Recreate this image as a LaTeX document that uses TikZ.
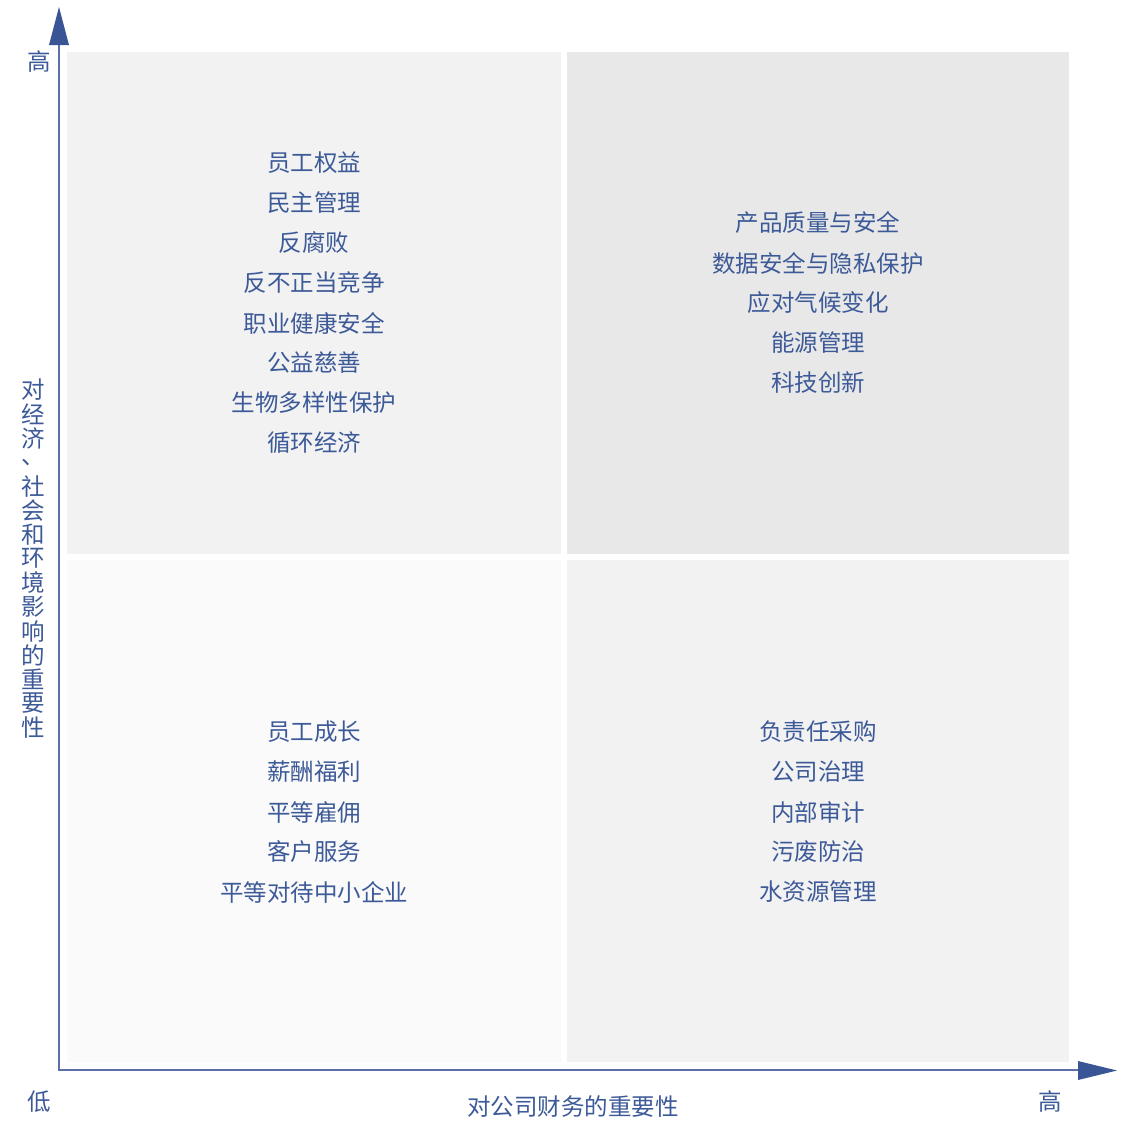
\documentclass[tikz,border=0pt]{standalone}
\usepackage{fontspec}
\setmainfont{Noto Sans CJK SC}
\begin{document}
\begin{tikzpicture}[x=1pt,y=-1pt,
  lbl/.style={text=txtc,font=\fontsize{23.5}{23.5}\selectfont,inner sep=0pt,anchor=center},
  quad/.style={draw=none,inner sep=0pt,outer sep=0pt}]
\definecolor{txtc}{HTML}{3D5A98}
\definecolor{axc}{HTML}{5C70A8}
\definecolor{arrc}{HTML}{3A5596}
\definecolor{qa}{HTML}{F2F2F2}
\definecolor{qb}{HTML}{E8E8E8}
\definecolor{qc}{HTML}{FAFAFA}
\definecolor{qd}{HTML}{F2F2F2}
\useasboundingbox[fill=white] (0,0) rectangle (1130,1120);
% quadrants
\fill[qa] (67,52) rectangle (561,554);
\fill[qb] (567,52) rectangle (1069,554);
\fill[qc] (67,560) rectangle (561,1062);
\fill[qd] (567,560) rectangle (1069,1062);
% axes
\coordinate (O) at (59,1070);
\coordinate (Ytop) at (59,44);
\coordinate (Xend) at (1079,1070);
\draw[axc,line width=1.8] (Ytop) -- (O) -- (Xend);
\fill[arrc] (49,45) -- (59,7) -- (69,45) -- cycle;
\fill[arrc] (1078,1061) -- (1117,1070.5) -- (1078,1080) -- cycle;
% axis labels
\node[lbl] (yhi) at (39,62) {高};
\node[lbl] (ylo) at (39,1102) {低};
\node[lbl] (xhi) at (1050,1102) {高};
\node[lbl] (xlab) at (573,1107) {对公司财务的重要性};
\foreach \c [count=\i from 0] in {对,经,济,、,社,会,和,环,境,影,响,的,重,要,性}{
  \node[lbl] (yl\i) at (33,{390+\i*24.1}) {\c};
}
% TL
\foreach \t [count=\i from 0] in {员工权益,民主管理,反腐败,反不正当竞争,职业健康安全,公益慈善,生物多样性保护,循环经济}{
  \node[lbl] (tl\i) at (314,{163+\i*40}) {\t};
}
% TR
\foreach \t [count=\i from 0] in {产品质量与安全,数据安全与隐私保护,应对气候变化,能源管理,科技创新}{
  \node[lbl] (tr\i) at (818,{223+\i*40}) {\t};
}
% BL
\foreach \t [count=\i from 0] in {员工成长,薪酬福利,平等雇佣,客户服务,平等对待中小企业}{
  \node[lbl] (bl\i) at (314,{732+\i*40}) {\t};
}
% BR
\foreach \t [count=\i from 0] in {负责任采购,公司治理,内部审计,污废防治,水资源管理}{
  \node[lbl] (br\i) at (818,{732+\i*40}) {\t};
}
\end{tikzpicture}
\end{document}
